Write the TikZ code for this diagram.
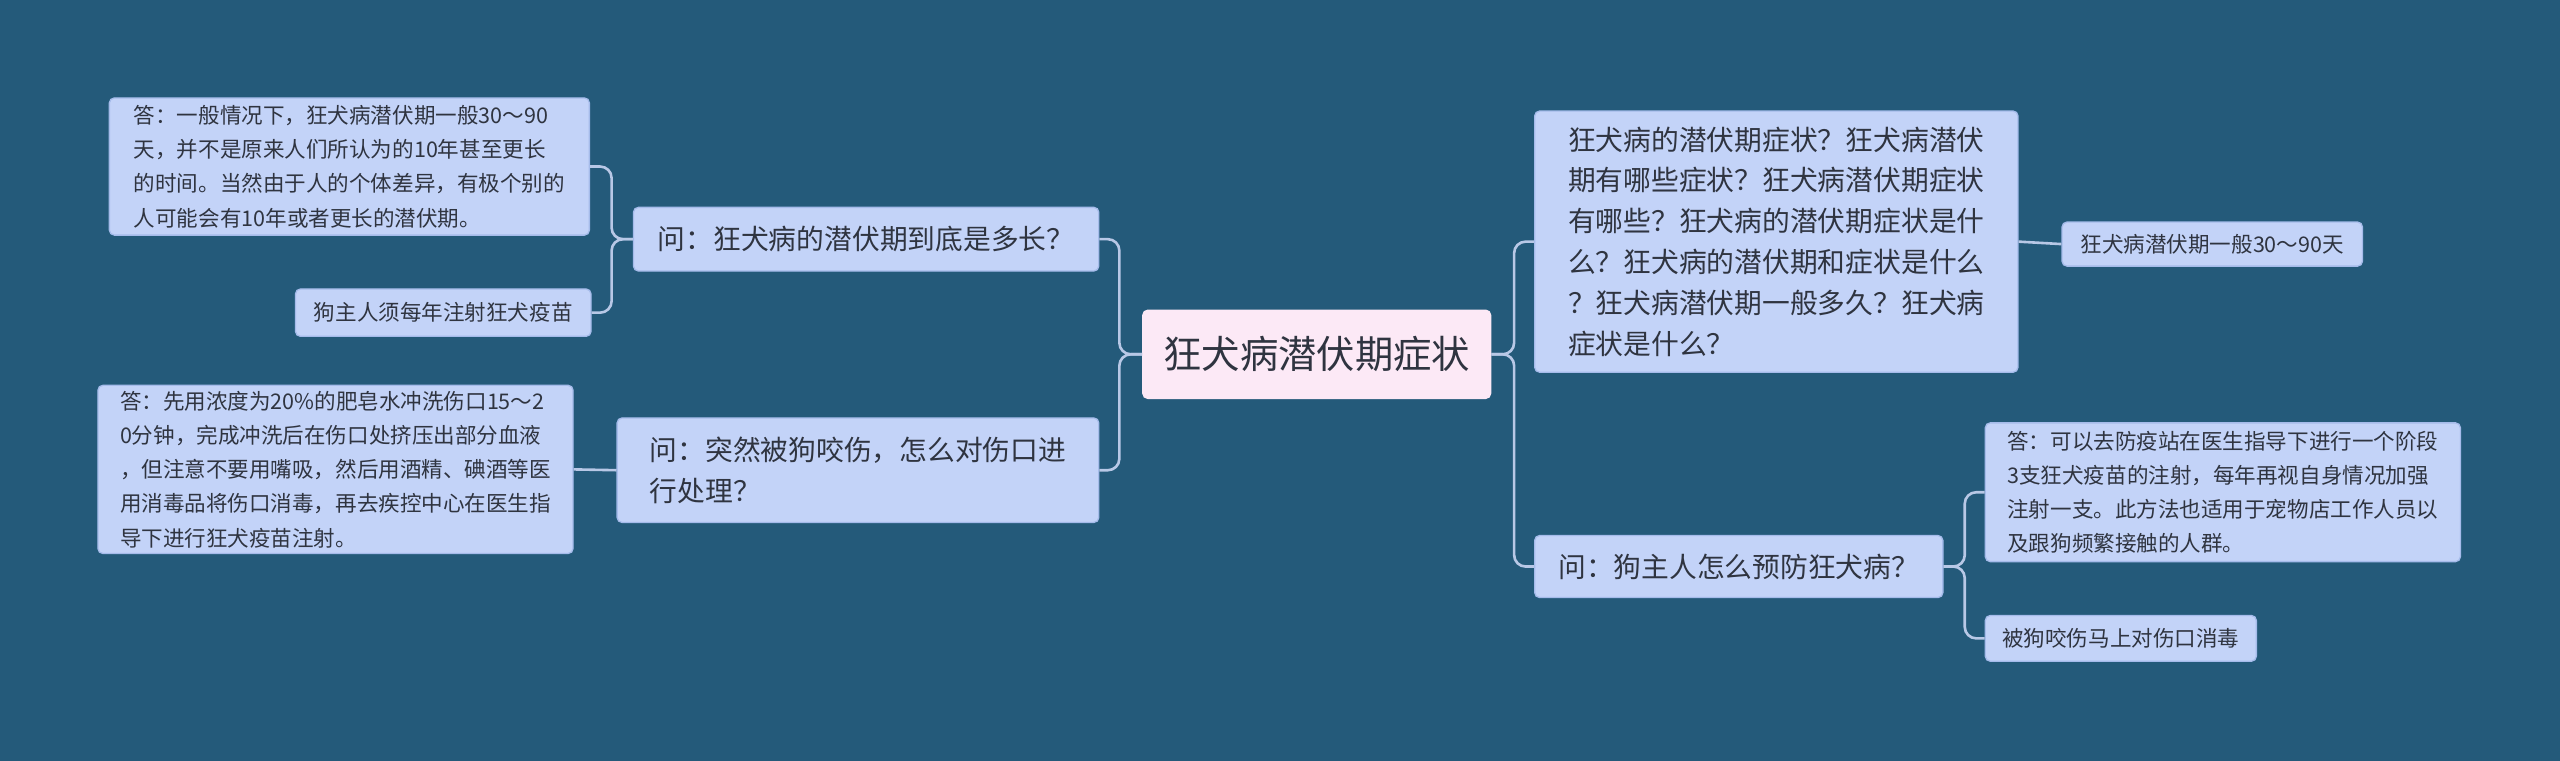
\documentclass[tikz,border=0pt]{standalone}
\usepackage{fontspec}
\setmainfont{Noto Sans CJK SC}
\begin{document}
\begin{tikzpicture}[x=1pt,y=-1pt,
 box/.style={draw=boxline,fill=boxfill,rounded corners=3pt,line width=0.8pt,text=txt,inner sep=0pt,align=left},
 med/.style={box,font=\fontsize{17}{25}\selectfont},
 sml/.style={box,font=\fontsize{13.2}{21}\selectfont},
 link/.style={draw=linkc,line width=1.6pt,rounded corners=7pt}]
\definecolor{bg}{HTML}{245A7A}
\definecolor{boxfill}{HTML}{C3D3F8}
\definecolor{boxline}{HTML}{A5BBEA}
\definecolor{txt}{HTML}{2F3440}
\definecolor{linkc}{HTML}{B8C8E6}
\definecolor{pinkf}{HTML}{FCE9F6}
\fill[bg] (0,0) rectangle (1568,466);
\useasboundingbox (0,0) rectangle (1568,466);
\node[box,fill=pinkf,draw=pinkf,font=\fontsize{23.5}{28}\selectfont,minimum width=213pt,minimum height=54pt] (c) at (806.5,217) {狂犬病潜伏期症状};
\node[med,minimum width=296pt,minimum height=160pt] (r1) at (1088,148) {狂犬病的潜伏期症状？狂犬病潜伏\\期有哪些症状？狂犬病潜伏期症状\\有哪些？狂犬病的潜伏期症状是什\\么？狂犬病的潜伏期和症状是什么\\？狂犬病潜伏期一般多久？狂犬病\\症状是什么？};
\node[sml,minimum width=184pt,minimum height=27pt] (r1a) at (1355,149.5) {狂犬病潜伏期一般30～90天};
\node[med,minimum width=250pt,minimum height=38pt] (r2) at (1065,347) {问：狗主人怎么预防狂犬病？};
\node[sml,minimum width=291pt,minimum height=85pt] (r2a) at (1361.5,301.5) {答：可以去防疫站在医生指导下进行一个阶段\\3支狂犬疫苗的注射，每年再视自身情况加强\\注射一支。此方法也适用于宠物店工作人员以\\及跟狗频繁接触的人群。};
\node[sml,minimum width=166pt,minimum height=28pt] (r2b) at (1299,391) {被狗咬伤马上对伤口消毒};
\node[med,minimum width=285pt,minimum height=39pt] (l1) at (530.5,146.5) {问：狂犬病的潜伏期到底是多长？};
\node[sml,minimum width=294pt,minimum height=84pt] (l1a) at (214,102) {答：一般情况下，狂犬病潜伏期一般30～90\\天，并不是原来人们所认为的10年甚至更长\\的时间。当然由于人的个体差异，有极个别的\\人可能会有10年或者更长的潜伏期。};
\node[sml,minimum width=181pt,minimum height=29pt] (l1b) at (271.5,191.5) {狗主人须每年注射狂犬疫苗};
\node[med,minimum width=295pt,minimum height=64pt] (l2) at (525.5,288) {问：突然被狗咬伤，怎么对伤口进\\行处理？};
\node[sml,minimum width=291pt,minimum height=103pt] (l2a) at (205.5,287.5) {答：先用浓度为20\%的肥皂水冲洗伤口15～2\\0分钟，完成冲洗后在伤口处挤压出部分血液\\，但注意不要用嘴吸，然后用酒精、碘酒等医\\用消毒品将伤口消毒，再去疾控中心在医生指\\导下进行狂犬疫苗注射。};
\draw[link] (c.east) -- ++(14,0) |- (r1.west);
\draw[link] (c.east) -- ++(14,0) |- (r2.west);
\draw[link] (c.west) -- ++(-14,0) |- (l1.east);
\draw[link] (c.west) -- ++(-14,0) |- (l2.east);
\draw[link] (l1.west) -- ++(-13,0) |- (l1a.east);
\draw[link] (l1.west) -- ++(-13,0) |- (l1b.east);
\draw[link] (l2.west) -- (l2a.east);
\draw[link] (r1.east) -- (r1a.west);
\draw[link] (r2.east) -- ++(13,0) |- (r2a.west);
\draw[link] (r2.east) -- ++(13,0) |- (r2b.west);
\end{tikzpicture}
\end{document}
